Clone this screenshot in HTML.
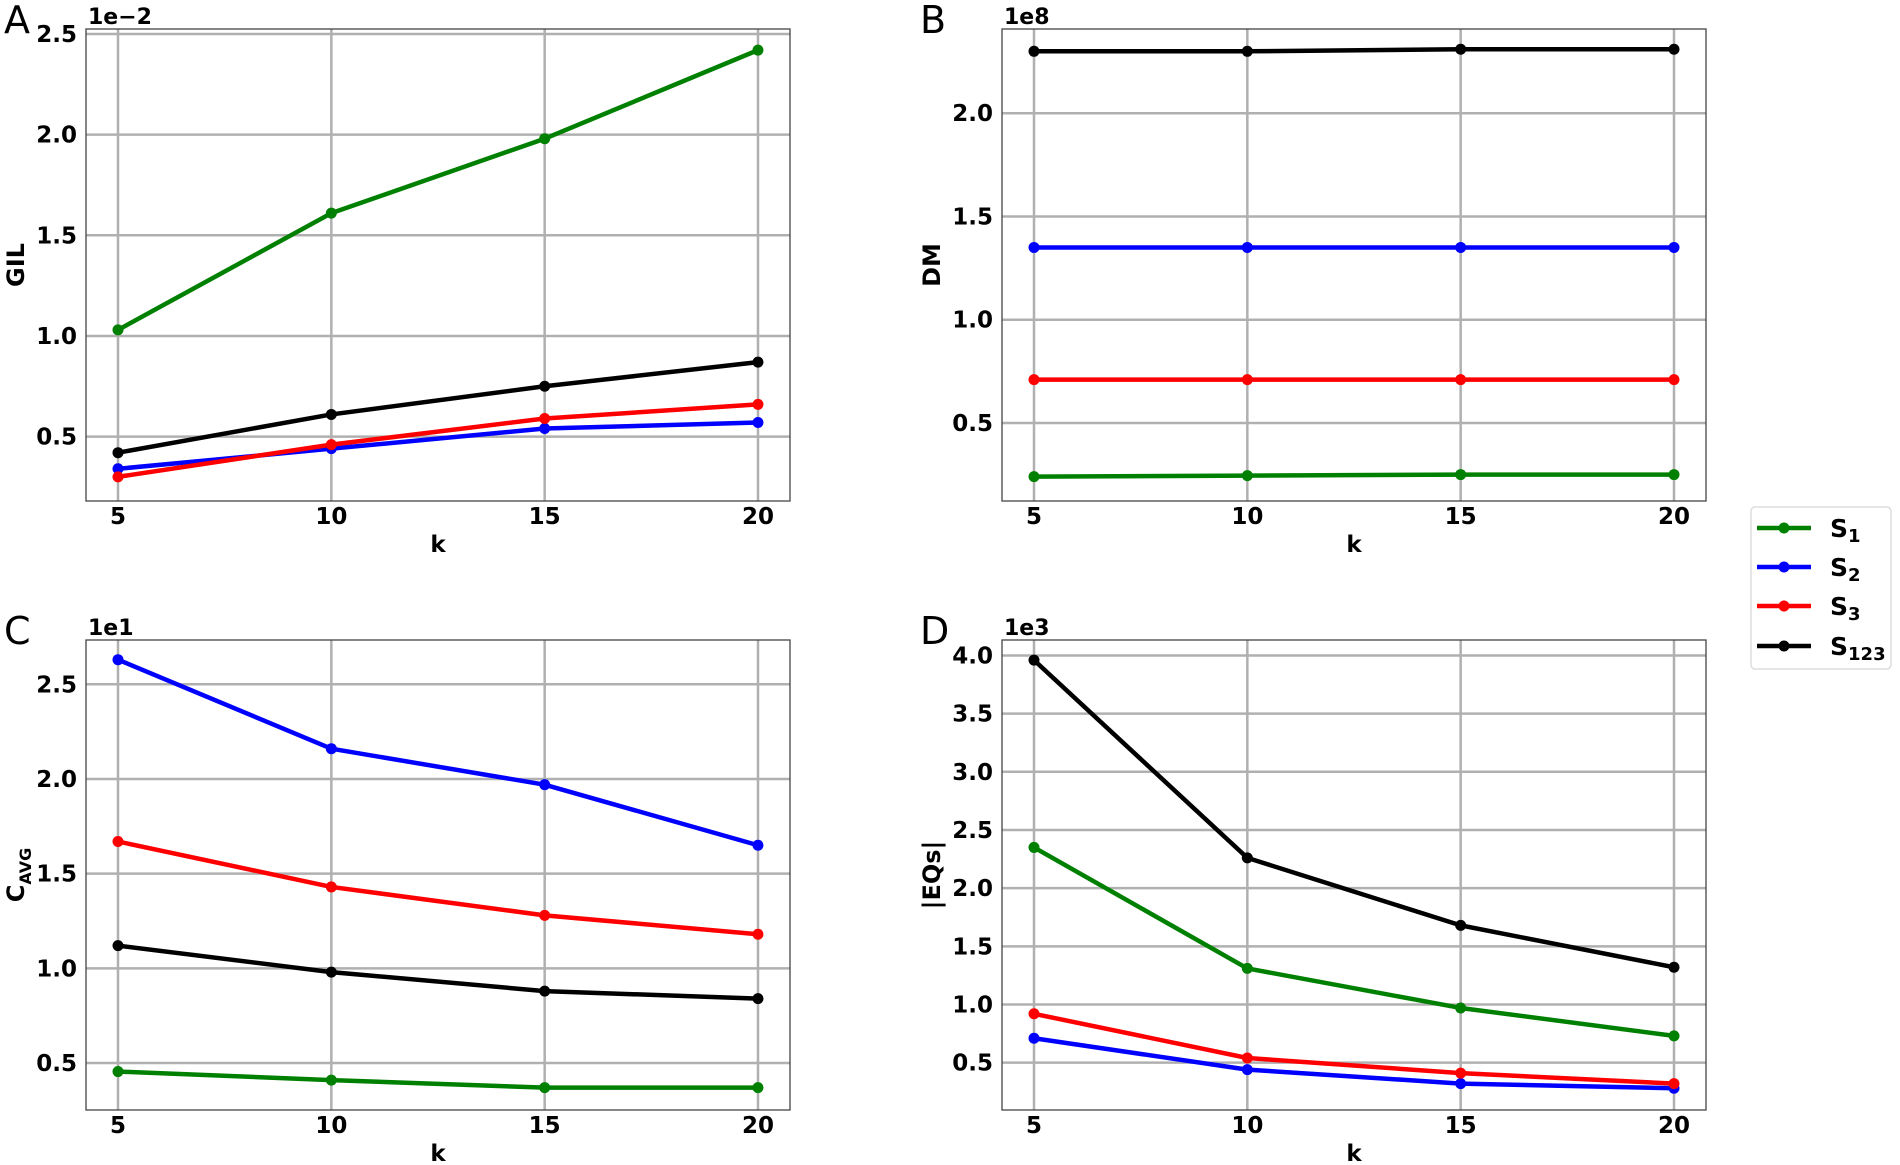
<!DOCTYPE html>
<html><head><meta charset="utf-8"><style>
html,body{margin:0;padding:0;background:#fff;}
svg{display:block;font-family:"DejaVu Sans","Liberation Sans",sans-serif;}
</style></head><body>
<svg id="fig" width="1900" height="1165" viewBox="0 0 1900 1165" xmlns="http://www.w3.org/2000/svg"></svg>
<script>
const kValues = [5, 10, 15, 20];
const xTicks = [5, 10, 15, 20];
const seriesNames = ["S1", "S2", "S3", "S123"];
const gilS1 = [1.03, 1.61, 1.98, 2.42];
const gilS2 = [0.34, 0.44, 0.54, 0.57];
const gilS3 = [0.30, 0.46, 0.59, 0.66];
const gilS123 = [0.42, 0.61, 0.75, 0.87];
const gilTicks = [0.5, 1.0, 1.5, 2.0, 2.5];
const dmS1 = [0.24, 0.245, 0.25, 0.25];
const dmS2 = [1.35, 1.35, 1.35, 1.35];
const dmS3 = [0.71, 0.71, 0.71, 0.71];
const dmS123 = [2.30, 2.30, 2.31, 2.31];
const dmTicks = [0.5, 1.0, 1.5, 2.0];
const cavgS1 = [0.455, 0.41, 0.37, 0.37];
const cavgS2 = [2.63, 2.16, 1.97, 1.65];
const cavgS3 = [1.67, 1.43, 1.28, 1.18];
const cavgS123 = [1.12, 0.98, 0.88, 0.84];
const cavgTicks = [0.5, 1.0, 1.5, 2.0, 2.5];
const eqsS1 = [2.35, 1.31, 0.97, 0.73];
const eqsS2 = [0.71, 0.44, 0.32, 0.28];
const eqsS3 = [0.92, 0.54, 0.41, 0.32];
const eqsS123 = [3.96, 2.26, 1.68, 1.32];
const eqsTicks = [0.5, 1.0, 1.5, 2.0, 2.5, 3.0, 3.5, 4.0];

const NS = "http://www.w3.org/2000/svg";
const svg = document.getElementById("fig");
const colors = ["#008000", "#0000ff", "#ff0000", "#000000"];
function mk(tag, attrs, parent) {
  const e = document.createElementNS(NS, tag);
  for (const k in attrs) e.setAttribute(k, attrs[k]);
  (parent || svg).appendChild(e);
  return e;
}
function panel(id, letter, L, T, R, B, ymin, ymax, yTicks, series, offset, ylabel, sub) {
  const g = mk("g", {});
  
  
  const xs = v => L + (v - 4.25) / 16.5 * (R - L);
  const ys = v => B - (v - ymin) / (ymax - ymin) * (B - T);
  xTicks.forEach(t => {
    const l = mk("line", {x1: xs(t), x2: xs(t), y1: T, y2: B, stroke: "#b0b0b0", "stroke-width": 2.5}, g);
    
    
    const tx = mk("text", {x: xs(t), y: B + 23, "text-anchor": "middle", "font-size": 23, "font-weight": "bold"}, g);
    tx.textContent = t;
    
    
  });
  yTicks.forEach(t => {
    const l = mk("line", {x1: L, x2: R, y1: ys(t), y2: ys(t), stroke: "#b0b0b0", "stroke-width": 2.5}, g);
    
    
    const tx = mk("text", {x: L - 9, y: ys(t) + 8, "text-anchor": "end", "font-size": 23, "font-weight": "bold"}, g);
    tx.textContent = t.toFixed(1);
    
    
  });
  const fr = mk("rect", {x: L, y: T, width: R - L, height: B - T, fill: "none", stroke: "#444", "stroke-width": 1.3}, g);
  
  
  series.forEach((vals, i) => {
    const pts = vals.map((v, j) => xs(kValues[j]) + "," + ys(v)).join(" ");
    const pl = mk("polyline", {points: pts, fill: "none", stroke: colors[i], "stroke-width": 4.5, "stroke-linejoin": "round"}, g);
    
    
    vals.forEach((v, j) => {
      const c = mk("circle", {cx: xs(kValues[j]), cy: ys(v), r: 5.5, fill: colors[i]}, g);
      
      
    });
  });
  const off = mk("text", {x: L + 2, y: T - 5, "font-size": 22, "font-weight": "bold"}, g);
  off.textContent = offset;
  
  
  const lt = mk("text", {x: L - 82, y: T + 4, "font-size": 38}, g);
  lt.textContent = letter;
  
  
  const xl = mk("text", {x: (L + R) / 2, y: B + 51, "text-anchor": "middle", "font-size": 23, "font-weight": "bold"}, g);
  xl.textContent = "k";
  
  
  const cy = (T + B) / 2;
  const yl = mk("text", {x: 0, y: 0, "text-anchor": "middle", "font-size": 24, "font-weight": "bold", transform: "translate(" + (L - 62) + "," + cy + ") rotate(-90)"}, g);
  yl.textContent = ylabel;
  if (sub) {
    const ts = mk("tspan", {"font-size": 16, dy: 7}, yl);
    ts.textContent = sub;
  }
  
  
}
panel("a", "A", 86, 29, 790, 501, 0.18, 2.525, gilTicks, [gilS1, gilS2, gilS3, gilS123], "1e\u22122", "GIL");
panel("b", "B", 1002, 29, 1706, 501, 0.122, 2.408, dmTicks, [dmS1, dmS2, dmS3, dmS123], "1e8", "DM");
panel("c", "C", 86, 640, 790, 1110, 0.252, 2.734, cavgTicks, [cavgS1, cavgS2, cavgS3, cavgS123], "1e1", "C", "AVG");
panel("d", "D", 1002, 640, 1706, 1110, 0.093, 4.133, eqsTicks, [eqsS1, eqsS2, eqsS3, eqsS123], "1e3", "|EQs|");

const lg = mk("g", {});


const lb = mk("rect", {x: 1751, y: 507, width: 140, height: 162, rx: 4, fill: "#fff", stroke: "#ddd", "stroke-width": 1.5}, lg);


const legY = [528, 567, 606, 646];
const subs = ["1", "2", "3", "123"];
seriesNames.forEach((n, i) => {
  const e = mk("g", {}, lg);
  
  
  mk("line", {x1: 1757, x2: 1811, y1: legY[i], y2: legY[i], stroke: colors[i], "stroke-width": 4.5}, e);
  mk("circle", {cx: 1784, cy: legY[i], r: 5.5, fill: colors[i]}, e);
  const t = mk("text", {x: 1830, y: legY[i] + 9, "font-size": 25, "font-weight": "bold"}, e);
  t.textContent = "S";
  const s = mk("tspan", {"font-size": 18, dy: 5}, t);
  s.textContent = subs[i];
});
</script>
</body></html>
